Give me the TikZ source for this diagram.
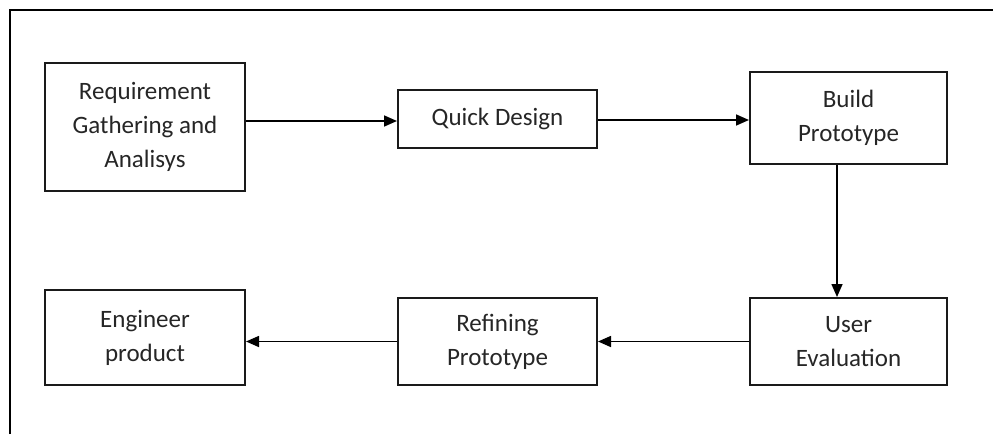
\documentclass[tikz,border=0pt]{standalone}
\usepackage{fontspec}
\setmainfont{Carlito}
\usetikzlibrary{arrows.meta}
\definecolor{txt}{HTML}{262626}
\definecolor{edge}{HTML}{1A1A1A}
\begin{document}
\begin{tikzpicture}[x=1pt,y=-1pt,
  stepbox/.style={draw=edge,line width=2pt,fill=white,align=center,inner sep=0pt,
    text=txt,font=\fontsize{25}{34}\selectfont},
  arr/.style={draw=black,line width=1.6pt,-{Triangle[length=13pt,width=11pt]}}]
\useasboundingbox (0,0) rectangle (993,434);
\draw[line width=2.5pt] (10,434) -- (10,10) -- (993,10);
\node[stepbox,minimum width=200pt,minimum height=128pt] (req) at (145,126.5) {Requirement\\Gathering and\\Analisys};
\node[stepbox,minimum width=199pt,minimum height=58pt] (qd) at (497.5,119) {Quick Design};
\node[stepbox,minimum width=197pt,minimum height=92pt] (build) at (848.5,118) {Build\\Prototype};
\node[stepbox,minimum width=197pt,minimum height=87pt] (user) at (848.5,341.5) {User\\Evaluation};
\node[stepbox,minimum width=199pt,minimum height=87pt] (refine) at (497.5,341.5) {Refining\\Prototype};
\node[stepbox,minimum width=200pt,minimum height=95pt] (eng) at (145,337.5) {Engineer\\product};
\draw[arr] (req.east |- 0,121) -- (qd.west |- 0,121);
\draw[arr] (qd.east |- 0,120) -- (build.west |- 0,120);
\draw[arr] (build.south -| 837,0) -- (user.north -| 837,0);
\draw[arr] (user.west) -- (refine.east);
\draw[arr] (refine.west) -- (eng.east |- refine.west);
\end{tikzpicture}
\end{document}
